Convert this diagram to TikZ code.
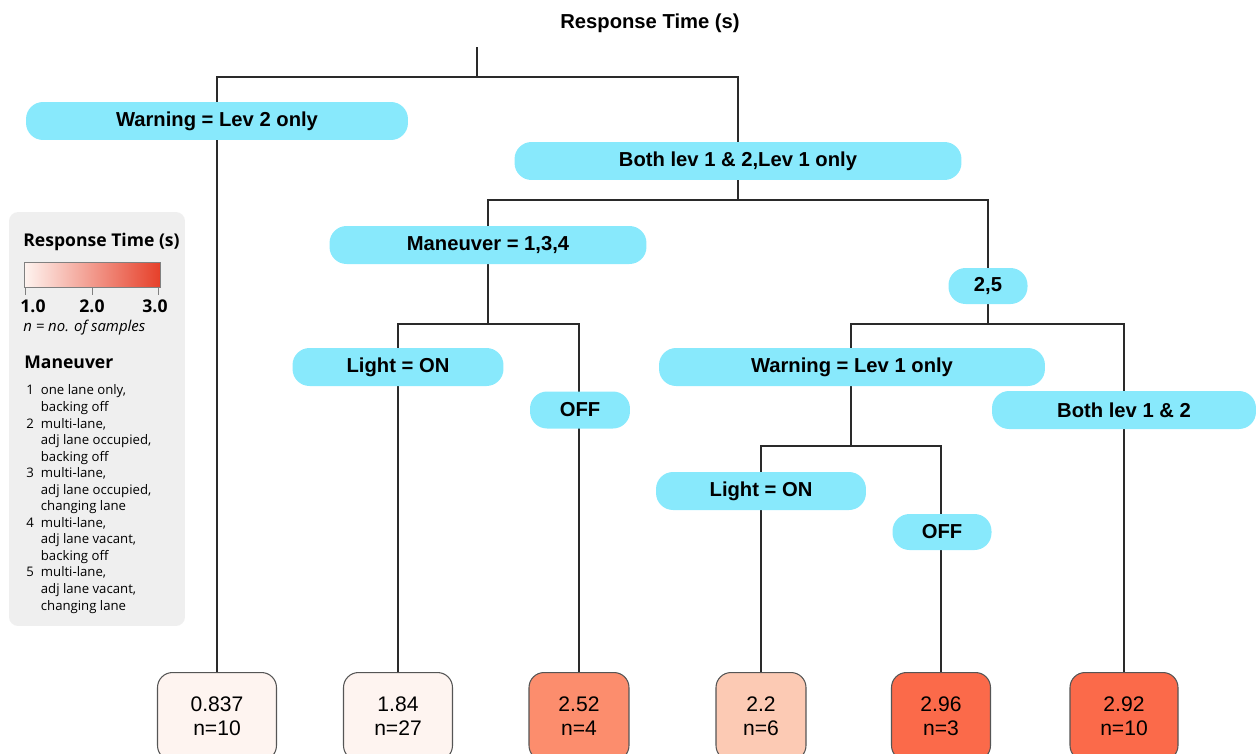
\documentclass[tikz,border=0pt]{standalone}
\usepackage{fontspec}
\setmainfont{Liberation Sans}
\newfontfamily\legendfont{Open Sans}
\definecolor{splitcyan}{HTML}{88E9FC}
\definecolor{leafpale}{HTML}{FEF4F0}
\definecolor{leafmid}{HTML}{FCCAB4}
\definecolor{leafwarm}{HTML}{FC8D6D}
\definecolor{leafhot}{HTML}{FB6A4A}
\definecolor{barred}{HTML}{E6402A}
\definecolor{panelgray}{HTML}{EFEFEF}
\definecolor{wire}{HTML}{2A2A2A}
\begin{document}
\begin{tikzpicture}[x=0.02cm, y=-0.02cm,
	split/.style={rectangle, rounded corners=0.34cm, fill=splitcyan, minimum height=0.76cm, inner sep=0pt,
		font=\fontsize{11.5}{13}\selectfont\bfseries},
	leaf/.style={rectangle, rounded corners=0.3cm, draw=wire!80, line width=0.6pt, anchor=north,
		minimum height=1.76cm, align=center, font=\fontsize{12}{13.6}\selectfont},
	branch/.style={draw=wire, line width=0.6pt},
	legbold/.style={font=\legendfont\fontsize{10}{12}\selectfont\bfseries}]
	\useasboundingbox (0,0) rectangle (1258,754);

	\node[font=\fontsize{11.5}{13}\selectfont\bfseries] (title) at (650,23) {Response Time (s)};

	\node[leaf, fill=leafpale, minimum width=2.38cm]	(l1) at (217,672) {0.837\\n=10};
	\node[leaf, fill=leafpale, minimum width=2.18cm]	(l2) at (398,672) {1.84\\n=27};
	\node[leaf, fill=leafwarm, minimum width=2.0cm]		(l3) at (579,672) {2.52\\n=4};
	\node[leaf, fill=leafmid, minimum width=1.8cm]		(l4) at (761,672) {2.2\\n=6};
	\node[leaf, fill=leafhot, minimum width=1.98cm]		(l5) at (941,672) {2.96\\n=3};
	\node[leaf, fill=leafhot, minimum width=2.16cm]		(l6) at (1124,672) {2.92\\n=10};

	\coordinate (stem) at (477,47);
	\coordinate (s0) at (477,77);
	\coordinate (s1) at (738,200);
	\coordinate (s2) at (488,324);
	\coordinate (s3) at (988,324);
	\coordinate (s4) at (851,446);

	\draw[branch] (stem) -- (s0);
	\draw[branch] (l1.north) |- (s0) -| (s1);
	\draw[branch] (s2) |- (s1) -| (s3);
	\draw[branch] (l2.north) |- (s2) -| (l3.north);
	\draw[branch] (s4) |- (s3) -| (l6.north);
	\draw[branch] (l4.north) |- (s4) -| (l5.north);

	\node[split, minimum width=7.64cm]	(wlev2) at (217,121) {Warning = Lev 2 only};
	\node[split, minimum width=8.94cm]	(both) at (738,161) {Both lev 1 \& 2,Lev 1 only};
	\node[split, minimum width=6.34cm]	(manA) at (488,245) {Maneuver = 1,3,4};
	\node[split, minimum width=1.58cm, minimum height=0.72cm]	(manB) at (988,286) {2,5};
	\node[split, minimum width=4.22cm]	(lightA) at (398,367) {Light = ON};
	\node[split, minimum width=2.0cm, minimum height=0.74cm]	(offA) at (580,410) {OFF};
	\node[split, minimum width=7.72cm]	(wlev1) at (852,367) {Warning = Lev 1 only};
	\node[split, minimum width=5.28cm]	(bothB) at (1124,410) {Both lev 1 \& 2};
	\node[split, minimum width=4.2cm]	(lightB) at (761,491) {Light = ON};
	\node[split, minimum width=1.98cm, minimum height=0.72cm]	(offB) at (942,532) {OFF};

	\node[rectangle, rounded corners=0.18cm, fill=panelgray, minimum width=3.52cm, minimum height=8.28cm]
		(legend) at (97,419) {};
	\node[legbold, anchor=west, inner sep=0pt] (legtitle) at (23,242) {Response Time (s)};
	\shade[left color=leafpale, right color=barred] (24,262) rectangle (160,287);
	\draw[gray] (24,262) rectangle (160,287);
	\foreach \tx in {25,92,158}
		\draw[gray] (\tx,287) -- (\tx,295);
	\node[legbold] (tickA) at (33,306) {1.0};
	\node[legbold] (tickB) at (92,306) {2.0};
	\node[legbold] (tickC) at (155,306) {3.0};
	\node[anchor=west, inner sep=0pt, font=\legendfont\fontsize{8.5}{10}\selectfont\itshape]
		(nsamp) at (23,328) {n = no. of samples};
	\node[legbold, anchor=west, inner sep=0pt] (mantitle) at (24,362) {Maneuver};
	\node[anchor=north west, inner sep=0pt, font=\legendfont\fontsize{7.5}{9.42}\selectfont] (manlist) at (26,383)
		{\begin{tabular}{@{}l@{\hspace{4pt}}l@{}}
			1 & one lane only,\\ & backing off\\
			2 & multi-lane,\\ & adj lane occupied,\\ & backing off\\
			3 & multi-lane,\\ & adj lane occupied,\\ & changing lane\\
			4 & multi-lane,\\ & adj lane vacant,\\ & backing off\\
			5 & multi-lane,\\ & adj lane vacant,\\ & changing lane
		\end{tabular}};
\end{tikzpicture}
\end{document}
